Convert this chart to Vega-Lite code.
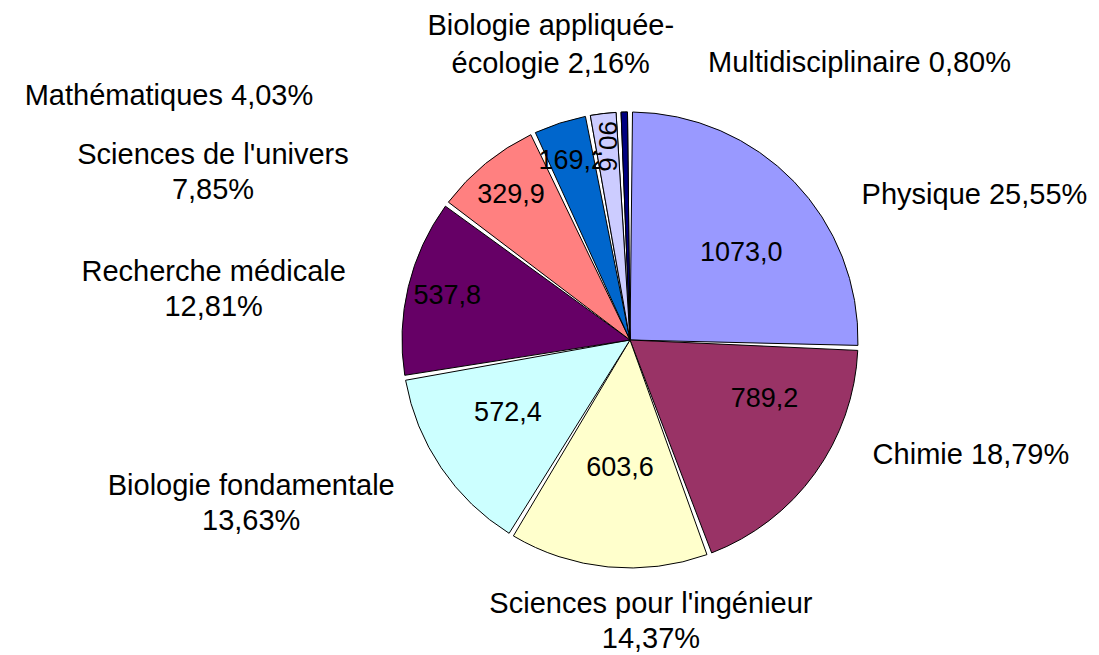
{
  "$schema": "https://vega.github.io/schema/vega-lite/v6.json",
  "autosize": {"type": "none"},
  "width": 938,
  "height": 630,
  "padding": {"left": 161, "top": 25, "right": 0, "bottom": 0},
  "background": "white",
  "config": {"view": {"stroke": null}},
  "data": {
    "values": [
      {"cat": "Physique", "value": 1073.0, "order": 1, "vlabel": "1073,0", "label": "Physique 25,55%"},
      {"cat": "Chimie", "value": 789.2, "order": 2, "vlabel": "789,2", "label": "Chimie 18,79%"},
      {"cat": "Sciences pour l'ingénieur", "value": 603.6, "order": 3, "vlabel": "603,6", "label": "Sciences pour l'ingénieur\n14,37%"},
      {"cat": "Biologie fondamentale", "value": 572.4, "order": 4, "vlabel": "572,4", "label": "Biologie fondamentale\n13,63%"},
      {"cat": "Recherche médicale", "value": 537.8, "order": 5, "vlabel": "537,8", "label": "Recherche médicale\n12,81%"},
      {"cat": "Sciences de l'univers", "value": 329.9, "order": 6, "vlabel": "329,9", "label": "Sciences de l'univers\n7,85%"},
      {"cat": "Mathématiques", "value": 169.2, "order": 7, "vlabel": "169,2", "label": "Mathématiques 4,03%"},
      {"cat": "Biologie appliquée-écologie", "value": 90.6, "order": 8, "vlabel": "90,6", "label": "Biologie appliquée-\nécologie 2,16%"},
      {"cat": "Multidisciplinaire", "value": 33.6, "order": 9, "vlabel": "33,6", "label": "Multidisciplinaire 0,80%"}
    ]
  },
  "encoding": {
    "theta": {"field": "value", "type": "quantitative", "stack": true},
    "order": {"field": "order", "type": "quantitative"}
  },
  "layer": [
    {
      "mark": {"type": "arc", "outerRadius": 228, "stroke": "black", "strokeWidth": 1, "padAngle": 0.022},
      "encoding": {
        "color": {
          "field": "cat", "type": "nominal", "legend": null,
          "scale": {
            "domain": ["Physique", "Chimie", "Sciences pour l'ingénieur", "Biologie fondamentale", "Recherche médicale", "Sciences de l'univers", "Mathématiques", "Biologie appliquée-écologie", "Multidisciplinaire"],
            "range": ["#9999FF", "#993366", "#FFFFCC", "#CCFFFF", "#660066", "#FF8080", "#0066CC", "#CCCCFF", "#000080"]
          }
        }
      }
    },
    {
      "mark": {"type": "text", "radius": 145, "dx": 7, "dy": 14, "font": "Liberation Sans", "fontSize": 27, "color": "black", "align": "center", "baseline": "middle"},
      "encoding": {"text": {"condition": {"test": "datum.order === 1", "field": "vlabel"}, "value": ""}}
    },
    {
      "mark": {"type": "text", "radius": 145, "dx": 17, "dy": -26, "font": "Liberation Sans", "fontSize": 27, "color": "black", "align": "center", "baseline": "middle"},
      "encoding": {"text": {"condition": {"test": "datum.order === 2", "field": "vlabel"}, "value": ""}}
    },
    {
      "mark": {"type": "text", "radius": 145, "dx": 4, "dy": -16, "font": "Liberation Sans", "fontSize": 27, "color": "black", "align": "center", "baseline": "middle"},
      "encoding": {"text": {"condition": {"test": "datum.order === 3", "field": "vlabel"}, "value": ""}}
    },
    {
      "mark": {"type": "text", "radius": 145, "dx": -2, "dy": -8, "font": "Liberation Sans", "fontSize": 27, "color": "black", "align": "center", "baseline": "middle"},
      "encoding": {"text": {"condition": {"test": "datum.order === 4", "field": "vlabel"}, "value": ""}}
    },
    {
      "mark": {"type": "text", "radius": 188, "font": "Liberation Sans", "fontSize": 27, "color": "black", "align": "center", "baseline": "middle"},
      "encoding": {
        "text": {"condition": {"test": "datum.order >= 5 && datum.order <= 7", "field": "vlabel"}, "value": ""}
      }
    },
    {
      "mark": {"type": "arc", "outerRadius": 228, "stroke": "black", "strokeWidth": 1, "padAngle": 0.022},
      "encoding": {
        "color": {"field": "cat", "type": "nominal", "legend": null},
        "opacity": {"condition": {"test": "datum.order >= 8", "value": 1}, "value": 0}
      }
    },
    {
      "mark": {"type": "text", "radius": 195, "angle": 90, "font": "Liberation Sans", "fontSize": 26, "color": "black", "align": "center", "baseline": "middle"},
      "encoding": {
        "text": {"condition": {"test": "datum.order === 8", "field": "vlabel"}, "value": ""}
      }
    },
    {
      "mark": {"type": "text", "radius": 240, "dx": 59, "dy": 22, "align": "left", "baseline": "middle", "font": "Liberation Sans", "fontSize": 29, "lineBreak": "\n", "lineHeight": 35, "color": "black"},
      "encoding": {"text": {"condition": {"test": "datum.order === 1", "field": "label"}, "value": ""}}
    },
    {
      "mark": {"type": "text", "radius": 240, "dx": 48, "dy": -25, "align": "left", "baseline": "middle", "font": "Liberation Sans", "fontSize": 29, "lineBreak": "\n", "lineHeight": 35, "color": "black"},
      "encoding": {"text": {"condition": {"test": "datum.order === 2", "field": "label"}, "value": ""}}
    },
    {
      "mark": {"type": "text", "radius": 240, "dx": 44, "dy": 25, "align": "center", "baseline": "middle", "font": "Liberation Sans", "fontSize": 29, "lineBreak": "\n", "lineHeight": 35, "color": "black"},
      "encoding": {"text": {"condition": {"test": "datum.order === 3", "field": "label"}, "value": ""}}
    },
    {
      "mark": {"type": "text", "radius": 240, "dx": -180, "dy": 12, "align": "center", "baseline": "middle", "font": "Liberation Sans", "fontSize": 29, "lineBreak": "\n", "lineHeight": 35, "color": "black"},
      "encoding": {"text": {"condition": {"test": "datum.order === 4", "field": "label"}, "value": ""}}
    },
    {
      "mark": {"type": "text", "radius": 240, "dx": -183, "dy": -12, "align": "center", "baseline": "middle", "font": "Liberation Sans", "fontSize": 29, "lineBreak": "\n", "lineHeight": 35, "color": "black"},
      "encoding": {"text": {"condition": {"test": "datum.order === 5", "field": "label"}, "value": ""}}
    },
    {
      "mark": {"type": "text", "radius": 240, "dx": -265, "dy": 1, "align": "center", "baseline": "middle", "font": "Liberation Sans", "fontSize": 29, "lineBreak": "\n", "lineHeight": 35, "color": "black"},
      "encoding": {"text": {"condition": {"test": "datum.order === 6", "field": "label"}, "value": ""}}
    },
    {
      "mark": {"type": "text", "radius": 240, "dx": -243, "dy": -16, "align": "right", "baseline": "middle", "font": "Liberation Sans", "fontSize": 29, "lineBreak": "\n", "lineHeight": 35, "color": "black"},
      "encoding": {"text": {"condition": {"test": "datum.order === 7", "field": "label"}, "value": ""}}
    },
    {
      "mark": {"type": "text", "radius": 240, "dx": -51, "dy": -76, "align": "center", "baseline": "middle", "font": "Liberation Sans", "fontSize": 29, "lineBreak": "\n", "lineHeight": 38, "color": "black"},
      "encoding": {"text": {"condition": {"test": "datum.order === 8", "field": "label"}, "value": ""}}
    },
    {
      "mark": {"type": "text", "radius": 240, "dx": 84, "dy": -37, "align": "left", "baseline": "middle", "font": "Liberation Sans", "fontSize": 29, "lineBreak": "\n", "lineHeight": 35, "color": "black"},
      "encoding": {"text": {"condition": {"test": "datum.order === 9", "field": "label"}, "value": ""}}
    }
  ]
}
